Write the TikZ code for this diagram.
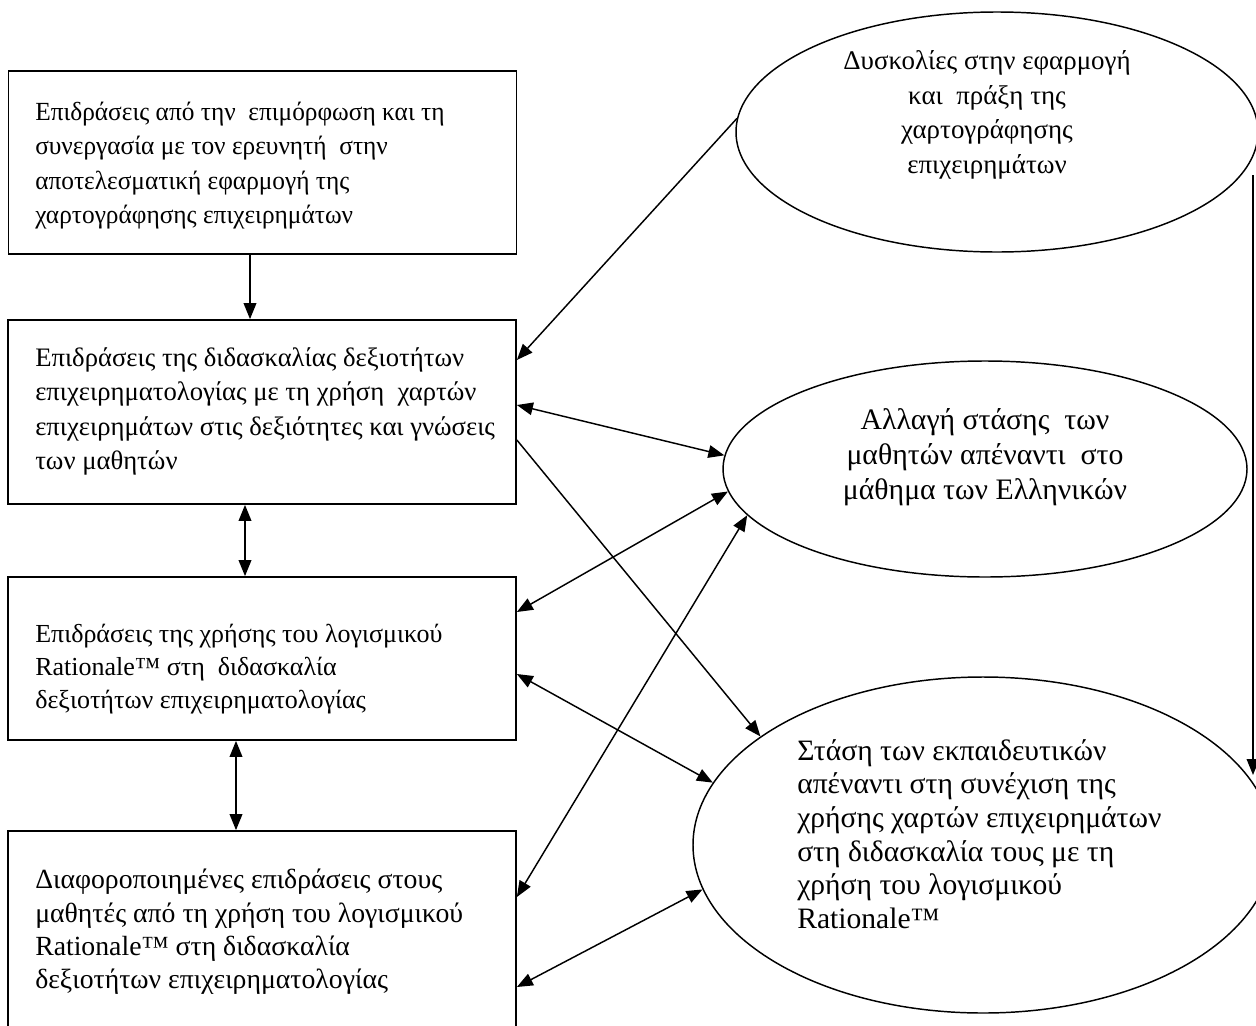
\documentclass[tikz,border=0pt]{standalone}
\usepackage{fontspec}
\setmainfont{Liberation Serif}
\newfontfamily\condfont[FakeStretch=0.97]{Liberation Serif}
\usetikzlibrary{arrows.meta,shapes.geometric}
\begin{document}
\begin{tikzpicture}[x=0.75pt,y=-0.75pt,
  box/.style={draw,line width=1.3pt,rectangle,inner sep=0pt,minimum width=381pt},
  btxt/.style={align=left,inner sep=0pt,anchor=west},
  ell/.style={draw,line width=1.1pt,ellipse,inner sep=0pt},
  arr/.style={line width=1.1pt,-{Triangle[length=12pt,width=9.5pt]}},
  dbl/.style={line width=1.1pt,{Triangle[length=12pt,width=9.5pt]}-{Triangle[length=12pt,width=9.5pt]}}]
\useasboundingbox (0,0) rectangle (1256,1025);

% boxes
\node[box,minimum height=137.25pt] (box1) at (262.5,162.5) {};
\node[box,minimum height=138pt] (box2) at (262,412) {};
\node[box,minimum height=122.25pt] (box3) at (262,658.5) {};
\node[box,minimum height=153pt] (box4) at (262,933) {};

\node[btxt,font=\condfont\fontsize{19.6pt}{25.7pt}\selectfont] (b1) at (35,165.5)
  {Επιδράσεις από την\ \ επιμόρφωση και τη\\
   συνεργασία με τον ερευνητή\ \ στην\\
   αποτελεσματική εφαρμογή της\\
   χαρτογράφησης επιχειρημάτων};
\node[btxt,font=\fontsize{20pt}{25.7pt}\selectfont] (b2) at (35,411.5)
  {Επιδράσεις της διδασκαλίας δεξιοτήτων\\
   επιχειρηματολογίας με τη χρήση\ \ χαρτών\\
   επιχειρημάτων στις δεξιότητες και γνώσεις\\
   των μαθητών};
\node[btxt,font=\fontsize{19.5pt}{25pt}\selectfont] (b3) at (35,669)
  {Επιδράσεις της χρήσης του λογισμικού\\
   Rationale™ στη\ \ διδασκαλία\\
   δεξιοτήτων επιχειρηματολογίας};
\node[btxt,font=\fontsize{20.8pt}{25pt}\selectfont] (b4) at (35,932)
  {Διαφοροποιημένες επιδράσεις στους\\
   μαθητές από τη χρήση του λογισμικού\\
   Rationale™ στη διδασκαλία\\
   δεξιοτήτων επιχειρηματολογίας};

% ellipses
\node[ell,minimum width=391.5pt,minimum height=180pt] (e1) at (997,132) {};
\node[ell,minimum width=393pt,minimum height=162pt] (e2) at (985,469) {};
\node[ell,minimum width=435pt,minimum height=252pt] (e3) at (983,845) {};

\node[align=center,inner sep=0pt,font=\fontsize{20.2pt}{26pt}\selectfont] (t1) at (987,115)
  {Δυσκολίες στην εφαρμογή\\ και\ \ πράξη της\\ χαρτογράφησης\\ επιχειρημάτων};
\node[align=center,inner sep=0pt,font=\fontsize{22.3pt}{26.2pt}\selectfont] (t2) at (985,457)
  {Αλλαγή στάσης\ \ των\\ μαθητών απέναντι\ \ στο\\ μάθημα των Ελληνικών};
\node[btxt,font=\fontsize{22.2pt}{25.2pt}\selectfont] (t3) at (797,834)
  {Στάση των εκπαιδευτικών\\ απέναντι στη συνέχιση της\\ χρήσης χαρτών επιχειρημάτων\\
   στη διδασκαλία τους με τη\\ χρήση του λογισμικού\\ Rationale™};

% helper coordinates
\coordinate (xa) at (250,0);
\coordinate (xb) at (245,0);
\coordinate (xc) at (236,0);
\coordinate (vx) at (1253,775);

% vertical arrows between boxes
\draw[arr] (box1.south -| xa) -- (box2.north -| xa);
\draw[dbl] (box2.south -| xb) -- (box3.north -| xb);
\draw[dbl] (box3.south -| xc) -- (box4.north -| xc);

% connectors
\draw[arr] (e1.350 -| vx) -- (vx);
\draw[arr] (e1.177) -- (box2.east |- 0,360);
\draw[dbl] (box2.east |- 0,405) -- (e2.177);
\draw[arr] (box2.east |- 0,440) -- (e3.154);
\draw[dbl] (box3.east |- 0,612) -- (e2.185);
\draw[dbl] (box3.east |- 0,674) -- (e3.167);
\draw[dbl] (box4.east |- 0,897) -- (e2.191);
\draw[dbl] (box4.east |- 0,987) -- (e3.189);
\end{tikzpicture}
\end{document}
